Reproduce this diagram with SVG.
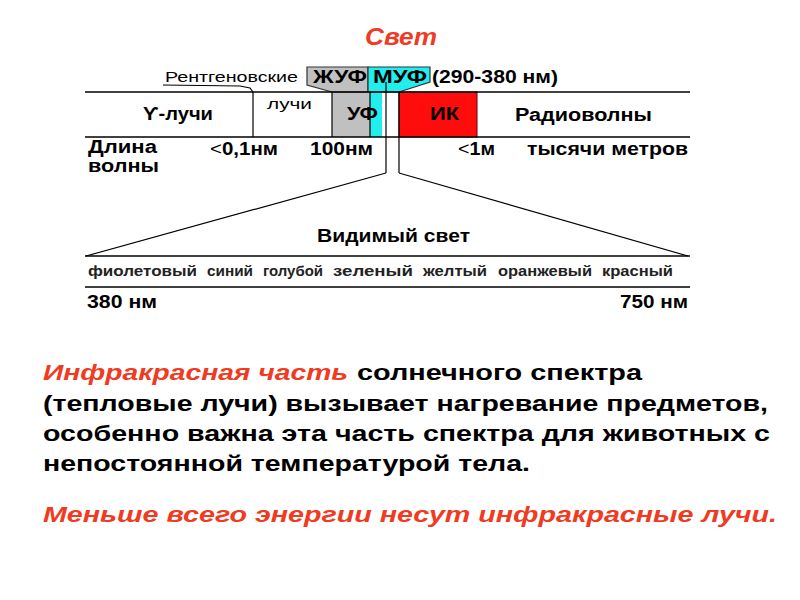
<svg xmlns="http://www.w3.org/2000/svg" width="800" height="600" viewBox="0 0 800 600">
<style>
text{font-family:"Liberation Sans",Arial,sans-serif;fill:#000}
.red{fill:#ef3b1f;font-style:italic;font-weight:bold}
.ln{stroke:#000;stroke-width:1.6;fill:none}
.thin{stroke:#000;stroke-width:1.2;fill:none}
.lab{font-size:18px;font-weight:bold}
.col{font-size:14px;font-weight:bold;fill:#222}
.par{font-size:22px;font-weight:bold}
</style>
<rect width="800" height="600" fill="#fff"/>
<g id="title"><text class="red" x="365" y="45" font-size="24" textLength="72" lengthAdjust="spacingAndGlyphs">Свет</text></g>

<g id="band">
  <rect x="332" y="92" width="38" height="45" fill="#c0c0c0"/>
  <rect x="370" y="92" width="12" height="45" fill="#22eeee"/>
  <rect x="399" y="92" width="78" height="45" fill="#ff0d0d" stroke="#600" stroke-width="1"/>
  <polygon points="307,67 368,67 368,92 332,92 307,85" fill="#c0c0c0" stroke="#333" stroke-width="1.2"/>
  <polygon points="368,67 430,67 430,82 399,92 368,92" fill="#22eeee" stroke="#333" stroke-width="1.2"/>
  <line class="ln" x1="85" y1="92" x2="690" y2="92"/>
  <line class="ln" x1="85" y1="137" x2="690" y2="137"/>
  <line class="thin" x1="253" y1="92" x2="253" y2="137"/>
  <line class="thin" x1="332" y1="92" x2="332" y2="137"/>
  <line class="thin" x1="370" y1="92" x2="370" y2="137" stroke="#345"/>
  <path class="thin" d="M163,85 L240,86 L250,88 L253,92" stroke="#555"/>
</g>

<g id="labels">
  <text x="165" y="82" font-size="15" textLength="133" lengthAdjust="spacingAndGlyphs">Рентгеновские</text>
  <text class="lab" x="313" y="83" textLength="54" lengthAdjust="spacingAndGlyphs">ЖУФ</text>
  <text class="lab" x="373" y="83" textLength="54" lengthAdjust="spacingAndGlyphs">МУФ</text>
  <text class="lab" x="432" y="83" textLength="126" lengthAdjust="spacingAndGlyphs">(290-380 нм)</text>
  <text class="lab" x="143" y="120" font-size="19" textLength="70" lengthAdjust="spacingAndGlyphs">ϒ-лучи</text>
  <text x="267" y="109" font-size="14" textLength="45" lengthAdjust="spacingAndGlyphs">лучи</text>
  <text class="lab" x="347" y="120" textLength="31" lengthAdjust="spacingAndGlyphs">УФ</text>
  <text class="lab" x="430" y="120" textLength="29" lengthAdjust="spacingAndGlyphs">ИК</text>
  <text class="lab" x="515" y="121" textLength="137" lengthAdjust="spacingAndGlyphs">Радиоволны</text>
  <text class="lab" x="88" y="153" font-size="15" textLength="69" lengthAdjust="spacingAndGlyphs">Длина</text>
  <text class="lab" x="88" y="172" font-size="15" textLength="71" lengthAdjust="spacingAndGlyphs">волны</text>
  <text class="lab" x="210" y="155" textLength="68" lengthAdjust="spacingAndGlyphs"><tspan font-weight="normal">&lt;</tspan>0,1нм</text>
  <text class="lab" x="310" y="155" textLength="63" lengthAdjust="spacingAndGlyphs">100нм</text>
  <text class="lab" x="458" y="155" textLength="37" lengthAdjust="spacingAndGlyphs"><tspan font-weight="normal">&lt;</tspan>1м</text>
  <text class="lab" x="527" y="155" textLength="161" lengthAdjust="spacingAndGlyphs">тысячи метров</text>
</g>

<g id="visible">
  <line class="thin" x1="386" y1="82" x2="386" y2="173"/>
  <line class="thin" x1="399" y1="92" x2="399" y2="173"/>
  <line class="thin" x1="386" y1="173" x2="86" y2="256"/>
  <line class="thin" x1="399" y1="173" x2="688" y2="256"/>
  <line class="ln" x1="85" y1="256" x2="690" y2="256" stroke-width="2"/>
  <line class="ln" x1="85" y1="287" x2="690" y2="287" stroke-width="2"/>
  <text class="lab" x="317" y="242" font-size="19" textLength="153" lengthAdjust="spacingAndGlyphs">Видимый свет</text>
  <text class="col" x="88" y="276" textLength="109" lengthAdjust="spacingAndGlyphs">фиолетовый</text>
  <text class="col" x="207" y="276" textLength="46" lengthAdjust="spacingAndGlyphs">синий</text>
  <text class="col" x="263" y="276" textLength="60" lengthAdjust="spacingAndGlyphs">голубой</text>
  <text class="col" x="333" y="276" textLength="80" lengthAdjust="spacingAndGlyphs">зеленый</text>
  <text class="col" x="423" y="276" textLength="64" lengthAdjust="spacingAndGlyphs">желтый</text>
  <text class="col" x="498" y="276" textLength="94" lengthAdjust="spacingAndGlyphs">оранжевый</text>
  <text class="col" x="602" y="276" textLength="71" lengthAdjust="spacingAndGlyphs">красный</text>
  <text class="lab" x="87" y="308" textLength="70" lengthAdjust="spacingAndGlyphs">380 нм</text>
  <text class="lab" x="620" y="308" textLength="68" lengthAdjust="spacingAndGlyphs">750 нм</text>
</g>

<g id="paragraph">
  <text class="par red" x="43" y="380" textLength="305" lengthAdjust="spacingAndGlyphs">Инфракрасная часть</text>
  <text class="par" x="357" y="380" textLength="285" lengthAdjust="spacingAndGlyphs">солнечного спектра</text>
  <text class="par" x="43" y="411" textLength="725" lengthAdjust="spacingAndGlyphs">(тепловые лучи) вызывает нагревание предметов,</text>
  <text class="par" x="43" y="441" textLength="727" lengthAdjust="spacingAndGlyphs">особенно важна эта часть спектра для животных с</text>
  <text class="par" x="43" y="471" textLength="487" lengthAdjust="spacingAndGlyphs">непостоянной температурой тела.</text>
  <text class="par red" x="43" y="522" textLength="734" lengthAdjust="spacingAndGlyphs">Меньше всего энергии несут инфракрасные лучи.</text>
</g>
</svg>
